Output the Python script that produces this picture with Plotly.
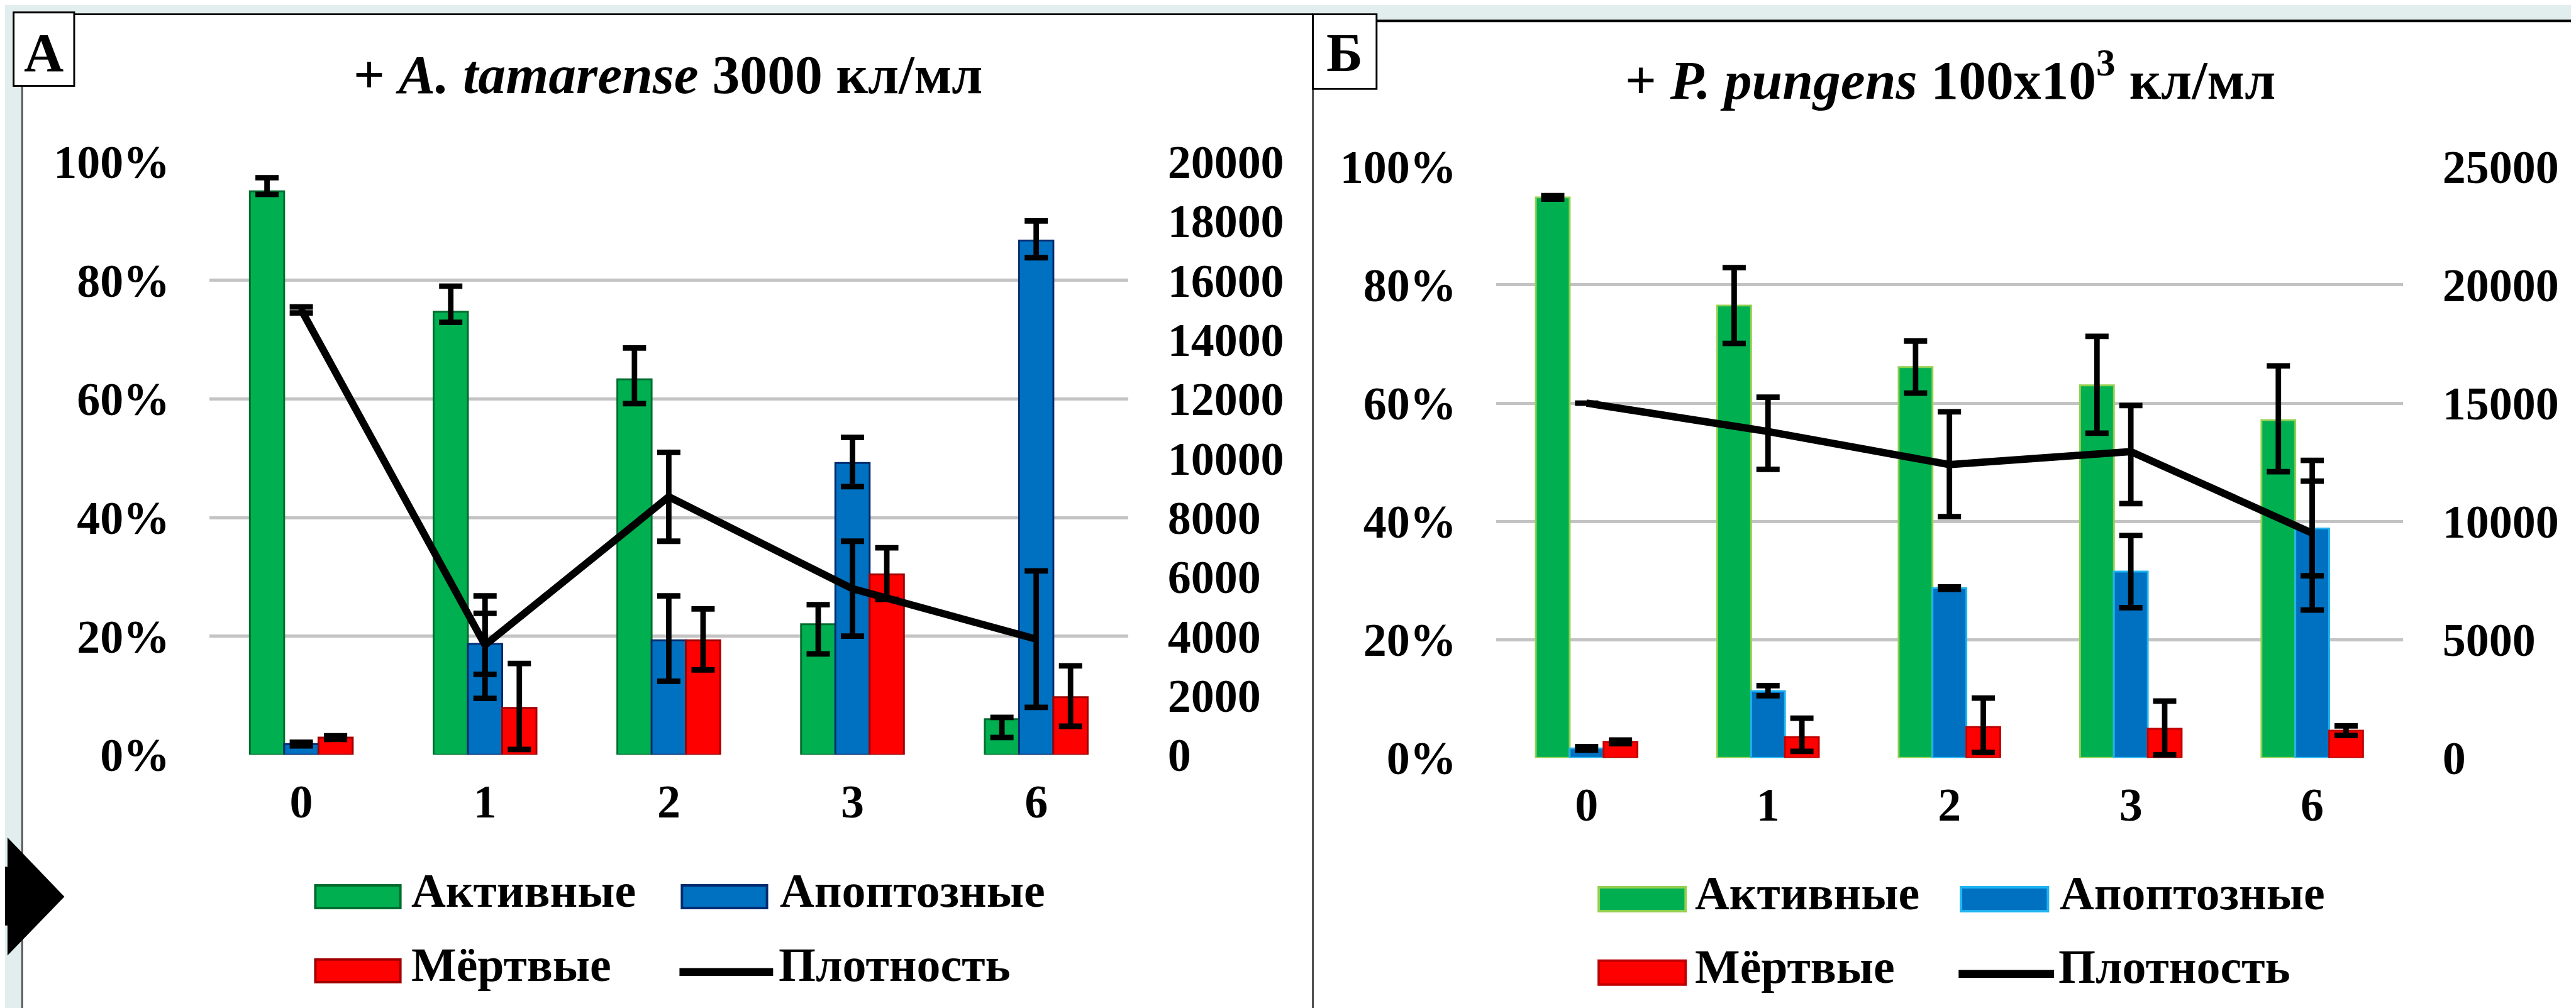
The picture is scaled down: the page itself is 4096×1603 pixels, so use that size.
import plotly.graph_objects as go

# ---------------- data ----------------
cats = ["0", "1", "2", "3", "6"]

# Panel A: + A. tamarense 3000 кл/мл
a_active = [95.0, 74.7, 63.3, 22.0, 6.0]
a_active_plus = [2.3, 4.3, 5.3, 3.3, 0.3]
a_active_minus = [0.5, 1.8, 4.1, 5.0, 3.1]
a_apop = [1.8, 18.7, 19.3, 49.2, 86.7]
a_apop_plus = [0.3, 8.1, 7.5, 4.3, 3.3]
a_apop_minus = [0.3, 9.2, 6.9, 4.0, 2.9]
a_dead = [2.9, 7.9, 19.3, 30.4, 9.7]
a_dead_plus = [0.3, 7.5, 5.3, 4.5, 5.3]
a_dead_minus = [0.3, 7.0, 5.0, 4.2, 4.9]
a_dens = [15000, 3700, 8700, 5600, 3900]
a_dens_plus = [100, 1070, 1500, 1600, 2300]
a_dens_minus = [100, 990, 1500, 1600, 2300]

# Panel Б: + P. pungens 100x10^3 кл/мл
b_active = [94.8, 76.5, 66.1, 63.0, 57.1]
b_active_plus = [0.3, 6.4, 4.4, 8.3, 9.2]
b_active_minus = [0.3, 6.4, 4.4, 8.1, 8.7]
b_apop = [1.6, 11.3, 28.7, 31.5, 38.8]
b_apop_plus = [0.3, 0.9, 0.2, 6.1, 11.5]
b_apop_minus = [0.3, 0.8, 0.2, 6.1, 13.8]
b_dead = [2.7, 3.5, 5.2, 4.9, 4.6]
b_dead_plus = [0.3, 3.2, 4.9, 4.7, 0.8]
b_dead_minus = [0.3, 2.4, 4.3, 4.4, 0.8]
b_dens = [15000, 13800, 12400, 12950, 9500]
b_dens_plus = [0, 1450, 2230, 1950, 2200]
b_dens_minus = [0, 1600, 2200, 2200, 1800]

series_names = ["Активные", "Апоптозные", "Мёртвые", "Плотность"]
titles = ["<b>+ <i>A. tamarense</i> 3000 кл/мл</b>",
          "<b>+ <i>P. pungens</i> 100x10<sup>3</sup> кл/мл</b>"]
panel_labels = ["А", "Б"]
pct_ticks = [0, 20, 40, 60, 80, 100]
pct_text = ["0%", "20%", "40%", "60%", "80%", "100%"]
a_dens_ticks = [0, 2000, 4000, 6000, 8000, 10000, 12000, 14000, 16000, 18000, 20000]
b_dens_ticks = [0, 5000, 10000, 15000, 20000, 25000]

# ---------------- geometry helpers (reference px -> paper) ----------------
W_REF, H_REF = 4209.0, 1647.0
S = 4096.0 / 4209.0


def px(X):
    return X / W_REF


def py(Y):
    return 1 - Y / H_REF


def fs(v):
    return v * S


FONT = "Times New Roman, Liberation Serif, DejaVu Serif, serif"
GREEN, BLUE, RED = "#00b050", "#0070c0", "#ff0000"
TEAL = "#e2eeee"
GRID = "#c3c3c3"

tickfont = dict(family=FONT, size=fs(76), color="black", weight="bold")


def err(plus, minus):
    return dict(type="data", symmetric=False, array=plus, arrayminus=minus,
                color="black", thickness=fs(9), width=fs(19))


fig = go.Figure()

# ---- Panel A bars ----
panelA = [
    (a_active, a_active_plus, a_active_minus, GREEN, "#006b2e"),
    (a_apop, a_apop_plus, a_apop_minus, BLUE, "#002a6e"),
    (a_dead, a_dead_plus, a_dead_minus, RED, "#a00000"),
]
for (vals, p, m, col, lc), nm in zip(panelA, series_names[:3]):
    fig.add_trace(go.Bar(x=cats, y=vals, name=nm, showlegend=False,
                         marker=dict(color=col, line=dict(color=lc, width=fs(3))),
                         error_y=err(p, m), xaxis="x", yaxis="y"))
fig.add_trace(go.Scatter(x=cats, y=a_dens, name=series_names[3], showlegend=False,
                         mode="lines", line=dict(color="black", width=fs(12)),
                         error_y=err(a_dens_plus, a_dens_minus),
                         xaxis="x", yaxis="y2"))

# ---- Panel B bars ----
panelB = [
    (b_active, b_active_plus, b_active_minus, GREEN, "#92d050"),
    (b_apop, b_apop_plus, b_apop_minus, BLUE, "#1fb4f0"),
    (b_dead, b_dead_plus, b_dead_minus, RED, "#c00000"),
]
for (vals, p, m, col, lc), nm in zip(panelB, series_names[:3]):
    fig.add_trace(go.Bar(x=cats, y=vals, name=nm, showlegend=False,
                         marker=dict(color=col, line=dict(color=lc, width=fs(3))),
                         error_y=err(p, m), xaxis="x2", yaxis="y3"))
fig.add_trace(go.Scatter(x=cats, y=b_dens, name=series_names[3], showlegend=False,
                         mode="lines", line=dict(color="black", width=fs(12)),
                         error_y=err(b_dens_plus, b_dens_minus),
                         xaxis="x2", yaxis="y4"))

# ---------------- axes ----------------
xcommon = dict(type="category", showgrid=False, zeroline=False, showline=False,
               ticks="", tickfont=tickfont, ticklabelstandoff=int(round(fs(26))),
               automargin=False)
ycommon = dict(zeroline=False, showline=False, ticks="", tickfont=tickfont,
               ticklabelstandoff=int(round(fs(64))), fixedrange=True,
               automargin=False, tickmode="array")

fig.update_layout(
    xaxis=dict(domain=[px(334), px(1835)], anchor="y", **xcommon),
    yaxis=dict(domain=[py(1225), py(256)], anchor="x", range=[0, 100],
               tickvals=pct_ticks, ticktext=pct_text,
               showgrid=True, gridcolor=GRID, gridwidth=fs(5), **ycommon),
    yaxis2=dict(overlaying="y", side="right", anchor="x", range=[0, 20000],
                tickvals=a_dens_ticks, ticktext=[str(v) for v in a_dens_ticks],
                showgrid=False, **ycommon),
    xaxis2=dict(domain=[px(2436), px(3918)], anchor="y3", **xcommon),
    yaxis3=dict(domain=[py(1230), py(264)], anchor="x2", range=[0, 100],
                tickvals=pct_ticks, ticktext=pct_text,
                showgrid=True, gridcolor=GRID, gridwidth=fs(5), **ycommon),
    yaxis4=dict(overlaying="y3", side="right", anchor="x2", range=[0, 25000],
                tickvals=b_dens_ticks, ticktext=[str(v) for v in b_dens_ticks],
                showgrid=False, **ycommon),
    barmode="group", bargap=0.44, bargroupgap=0,
    width=4096, height=1603,
    margin=dict(l=0, r=0, t=0, b=0, pad=0, autoexpand=False),
    paper_bgcolor=TEAL, plot_bgcolor="rgba(0,0,0,0)",
    showlegend=False,
)

shapes = []
ann = []

# panel backgrounds
shapes.append(dict(type="rect", xref="paper", yref="paper", layer="below",
                   x0=px(28), x1=px(2137), y0=-0.01, y1=py(15),
                   fillcolor="white", line=dict(width=0)))
shapes.append(dict(type="rect", xref="paper", yref="paper", layer="below",
                   x0=px(2137), x1=1.01, y0=-0.01, y1=py(26),
                   fillcolor="white", line=dict(width=0)))
# borders
blk = dict(color="black", width=fs(3))
shapes += [
    dict(type="line", xref="paper", yref="paper", x0=px(28), x1=px(2137),
         y0=py(15), y1=py(15), line=blk),
    dict(type="line", xref="paper", yref="paper", x0=px(28), x1=px(28),
         y0=-0.01, y1=py(15), line=dict(color="#555555", width=fs(3))),
    dict(type="line", xref="paper", yref="paper", x0=px(2137), x1=px(2137),
         y0=-0.01, y1=py(15), line=dict(color="#444444", width=fs(3))),
    dict(type="line", xref="paper", yref="paper", x0=px(2137), x1=1.01,
         y0=py(26), y1=py(26), line=dict(color="black", width=fs(4))),
]
# letter boxes
boxes = [(14, 113, 12, 132), (2137, 2241, 15, 137)]
for (x0, x1, y0, y1), lab in zip(boxes, panel_labels):
    shapes.append(dict(type="rect", xref="paper", yref="paper",
                       x0=px(x0), x1=px(x1), y0=py(y1), y1=py(y0),
                       fillcolor="white", line=dict(color="black", width=fs(3))))
    ann.append(dict(text="<b>" + lab + "</b>", xref="paper", yref="paper",
                    x=px((x0 + x1) / 2), y=py(78), xanchor="center", yanchor="middle",
                    showarrow=False, font=dict(family=FONT, size=fs(90), color="black")))

# arrow at left
arrow_pts = [(0, 1408), (4, 1408), (4, 1360), (97, 1457), (4, 1553), (4, 1504), (0, 1504)]
path = "M " + " L ".join(f"{px(x):.5f},{py(y):.5f}" for x, y in arrow_pts) + " Z"
shapes.append(dict(type="path", xref="paper", yref="paper", path=path,
                   fillcolor="black", line=dict(color="black", width=0)))

# titles
title_pos = [(1083, 114), (3178, 116)]
for (tx, ty), t in zip(title_pos, titles):
    ann.append(dict(text=t, xref="paper", yref="paper", x=px(tx), y=py(ty),
                    xanchor="center", yanchor="middle", showarrow=False,
                    font=dict(family=FONT, size=fs(90), color="black")))

# manual legends
legend_specs = [
    dict(c1=507, c2=1106, r1=1457, r2=1578, sw=139, sh=37,
         lines=["#006b2e", "#002a6e", "#a00000"], t1=662, t2=1264),
    dict(c1=2604, c2=3196, r1=1461, r2=1581, sw=142, sh=39,
         lines=["#92d050", "#1fb4f0", "#c00000"], t1=2759, t2=3355),
]
for L in legend_specs:
    items = [
        (L["c1"], L["r1"], GREEN, L["lines"][0], L["t1"], series_names[0]),
        (L["c2"], L["r1"], BLUE, L["lines"][1], L["t2"], series_names[1]),
        (L["c1"], L["r2"], RED, L["lines"][2], L["t1"], series_names[2]),
    ]
    for x0, yc, fc, lc, tx, nm in items:
        shapes.append(dict(type="rect", xref="paper", yref="paper",
                           x0=px(x0), x1=px(x0 + L["sw"]),
                           y0=py(yc + L["sh"] / 2), y1=py(yc - L["sh"] / 2),
                           fillcolor=fc, line=dict(color=lc, width=fs(4))))
        ann.append(dict(text="<b>" + nm + "</b>", xref="paper", yref="paper",
                        x=px(tx), y=py(yc - 10), xanchor="left", yanchor="middle",
                        showarrow=False,
                        font=dict(family=FONT, size=fs(78), color="black")))
    shapes.append(dict(type="line", xref="paper", yref="paper",
                       x0=px(L["c2"] - 4), x1=px(L["c2"] + L["sw"] + 10),
                       y0=py(L["r2"] + 2), y1=py(L["r2"] + 2),
                       line=dict(color="black", width=fs(13))))
    ann.append(dict(text="<b>" + series_names[3] + "</b>", xref="paper", yref="paper",
                    x=px(L["t2"] - 2), y=py(L["r2"] - 10), xanchor="left", yanchor="middle",
                    showarrow=False, font=dict(family=FONT, size=fs(78), color="black")))

fig.update_layout(shapes=shapes, annotations=ann)
fig.write_html("out.html")
